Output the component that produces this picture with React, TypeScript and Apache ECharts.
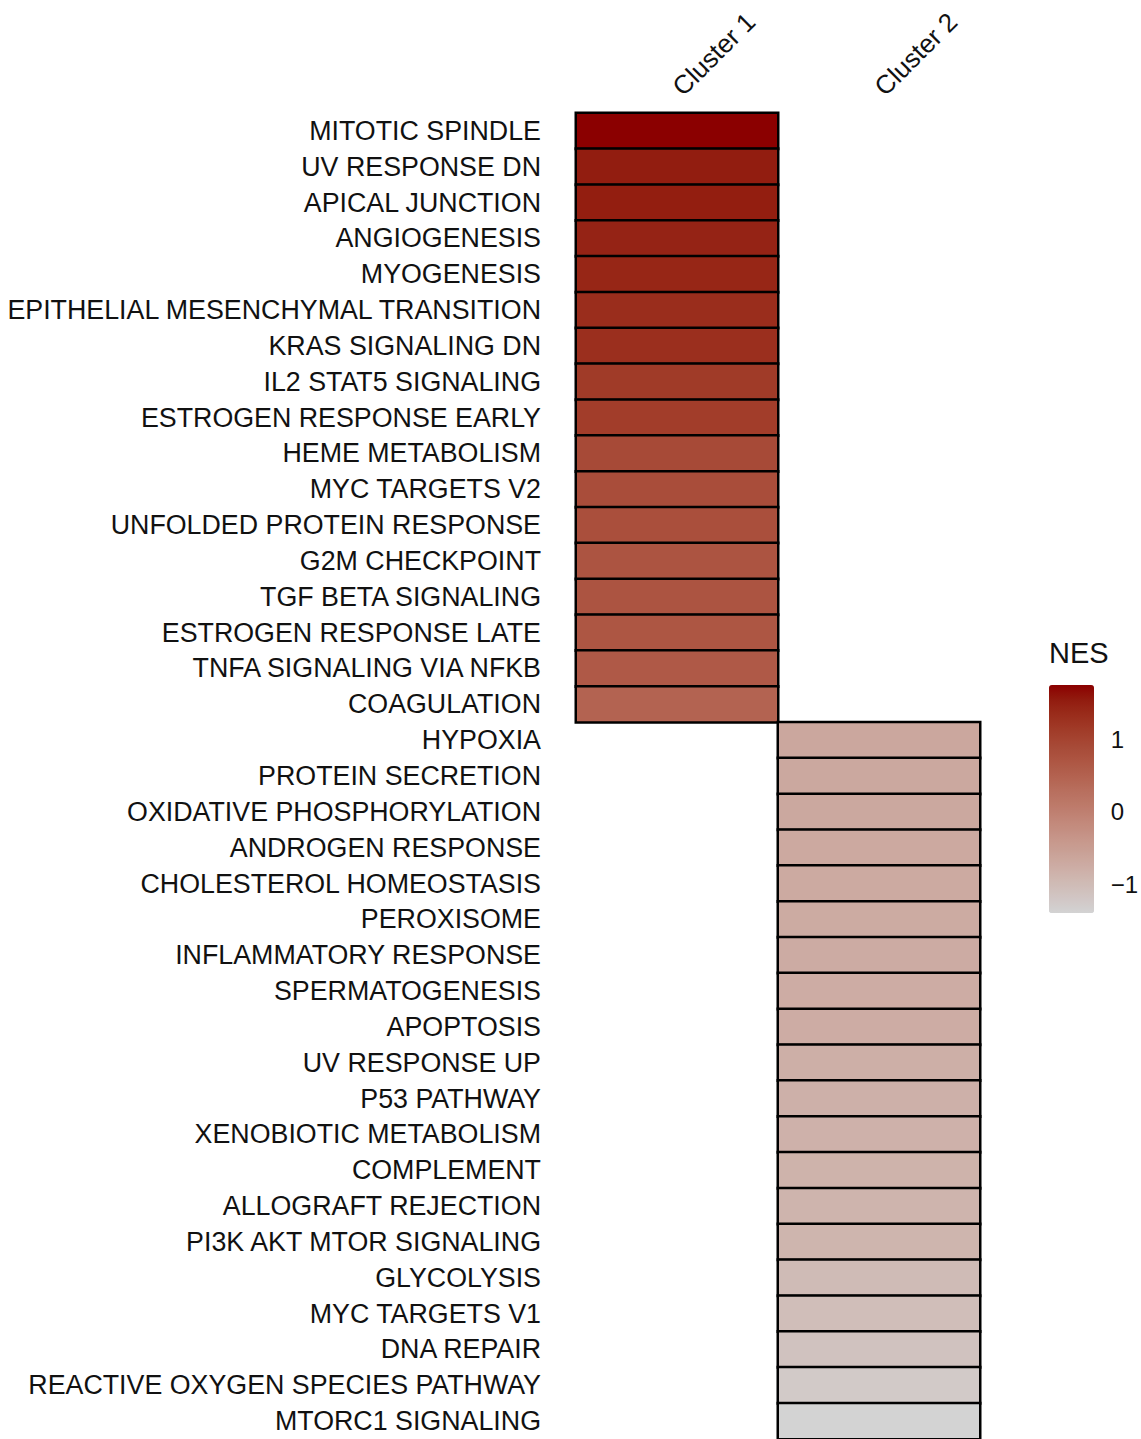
import React, { useEffect, useRef } from "react";
import * as echarts from "echarts";

const clusters = ["Cluster 1", "Cluster 2"];

const cluster1Pathways = [
  "MITOTIC SPINDLE",
  "UV RESPONSE DN",
  "APICAL JUNCTION",
  "ANGIOGENESIS",
  "MYOGENESIS",
  "EPITHELIAL MESENCHYMAL TRANSITION",
  "KRAS SIGNALING DN",
  "IL2 STAT5 SIGNALING",
  "ESTROGEN RESPONSE EARLY",
  "HEME METABOLISM",
  "MYC TARGETS V2",
  "UNFOLDED PROTEIN RESPONSE",
  "G2M CHECKPOINT",
  "TGF BETA SIGNALING",
  "ESTROGEN RESPONSE LATE",
  "TNFA SIGNALING VIA NFKB",
  "COAGULATION",
];
const cluster1NES = [
  1.75, 1.53, 1.52, 1.45, 1.42, 1.33, 1.3, 1.14, 1.1, 0.9, 0.84, 0.82, 0.74,
  0.73, 0.7, 0.64, 0.47,
];

const cluster2Pathways = [
  "HYPOXIA",
  "PROTEIN SECRETION",
  "OXIDATIVE PHOSPHORYLATION",
  "ANDROGEN RESPONSE",
  "CHOLESTEROL HOMEOSTASIS",
  "PEROXISOME",
  "INFLAMMATORY RESPONSE",
  "SPERMATOGENESIS",
  "APOPTOSIS",
  "UV RESPONSE UP",
  "P53 PATHWAY",
  "XENOBIOTIC METABOLISM",
  "COMPLEMENT",
  "ALLOGRAFT REJECTION",
  "PI3K AKT MTOR SIGNALING",
  "GLYCOLYSIS",
  "MYC TARGETS V1",
  "DNA REPAIR",
  "REACTIVE OXYGEN SPECIES PATHWAY",
  "MTORC1 SIGNALING",
];
const cluster2NES = [
  -0.67, -0.68, -0.69, -0.7, -0.72, -0.73, -0.74, -0.75, -0.76, -0.8, -0.82,
  -0.84, -0.86, -0.88, -0.9, -1.0, -1.05, -1.12, -1.25, -1.4,
];

const legendTicks = [-1, 0, 1];
const nesMin = -1.4;
const nesMax = 1.75;

// --- Lab interpolation (like ggplot's gradient) ---
function srgbToLin(c: number) {
  c /= 255;
  return c <= 0.04045 ? c / 12.92 : Math.pow((c + 0.055) / 1.055, 2.4);
}
function linToSrgb(c: number) {
  const v = c <= 0.0031308 ? 12.92 * c : 1.055 * Math.pow(c, 1 / 2.4) - 0.055;
  return Math.max(0, Math.min(255, Math.round(v * 255)));
}
const Xn = 0.95047, Yn = 1.0, Zn = 1.08883;
function f(t: number) {
  return t > 0.008856 ? Math.cbrt(t) : 7.787 * t + 16 / 116;
}
function finv(t: number) {
  return t > 0.206893 ? t * t * t : (t - 16 / 116) / 7.787;
}
function hexToLab(hex: string) {
  const r = srgbToLin(parseInt(hex.slice(1, 3), 16));
  const g = srgbToLin(parseInt(hex.slice(3, 5), 16));
  const b = srgbToLin(parseInt(hex.slice(5, 7), 16));
  const X = 0.4124 * r + 0.3576 * g + 0.1805 * b;
  const Y = 0.2126 * r + 0.7152 * g + 0.0722 * b;
  const Z = 0.0193 * r + 0.1192 * g + 0.9505 * b;
  const fx = f(X / Xn), fy = f(Y / Yn), fz = f(Z / Zn);
  return [116 * fy - 16, 500 * (fx - fy), 200 * (fy - fz)];
}
function labToHex(L: number, a: number, bb: number) {
  const fy = (L + 16) / 116;
  const fx = fy + a / 500;
  const fz = fy - bb / 200;
  const X = Xn * finv(fx), Y = Yn * finv(fy), Z = Zn * finv(fz);
  const r = 3.2406 * X - 1.5372 * Y - 0.4986 * Z;
  const g = -0.9689 * X + 1.8758 * Y + 0.0415 * Z;
  const b = 0.0557 * X - 0.204 * Y + 1.057 * Z;
  const h = (v: number) => linToSrgb(Math.max(0, v)).toString(16).padStart(2, "0");
  return "#" + h(r) + h(g) + h(b);
}
function labGradient(lo: string, hi: string, n: number) {
  const A = hexToLab(lo), B = hexToLab(hi);
  const out: string[] = [];
  for (let i = 0; i < n; i++) {
    const t = i / (n - 1);
    out.push(labToHex(A[0] + (B[0] - A[0]) * t, A[1] + (B[1] - A[1]) * t, A[2] + (B[2] - A[2]) * t));
  }
  return out;
}

const FONT = "'Liberation Sans', Arial, Helvetica, sans-serif";

export default function App() {
  const ref = useRef<HTMLDivElement>(null);
  useEffect(() => {
    if (!ref.current) return;
    const chart = echarts.init(ref.current, undefined, { renderer: "svg" });
    const pathways = [...cluster1Pathways, ...cluster2Pathways];
    const data: [number, number, number][] = [];
    cluster1Pathways.forEach((_, i) => data.push([0, i, cluster1NES[i]]));
    cluster2Pathways.forEach((_, i) =>
      data.push([1, cluster1Pathways.length + i, cluster2NES[i]])
    );
    const rowH = 35.85;
    chart.setOption({
      animation: false,
      backgroundColor: "#ffffff",
      grid: [
        { left: 576, top: 113, width: 404, height: rowH * pathways.length },
        { left: 1049, top: 685, width: 45, height: 228 },
      ],
      xAxis: [
        {
          type: "category",
          data: clusters,
          position: "top",
          gridIndex: 0,
          axisLine: { show: false },
          axisTick: { show: false },
          splitLine: { show: false },
          axisLabel: {
            rotate: -45,
            margin: 22,
            fontSize: 26,
            color: "#111",
            fontFamily: FONT,
          },
        },
        { type: "value", gridIndex: 1, show: false },
      ],
      yAxis: [
        {
          type: "category",
          data: pathways,
          inverse: true,
          gridIndex: 0,
          axisLine: { show: false },
          axisTick: { show: false },
          splitLine: { show: false },
          axisLabel: {
            margin: 35,
            fontSize: 26.8,
            color: "#111",
            fontFamily: FONT,
          },
        },
        {
          type: "value",
          gridIndex: 1,
          min: nesMin,
          max: nesMax,
          position: "right",
          axisLine: { show: false },
          splitLine: { show: false },
          axisTick: {
            show: true,
            inside: true,
            length: 9,
            customValues: legendTicks,
            lineStyle: { color: "rgba(255,255,255,0.75)", width: 1.5 },
          },
          axisLabel: {
            margin: 17,
            fontSize: 24,
            color: "#111",
            fontFamily: FONT,
            customValues: legendTicks,
            formatter: (v: number) => (v < 0 ? "\u2212" + Math.abs(v) : String(v)),
          },
        },
        {
          type: "value",
          gridIndex: 1,
          min: nesMin,
          max: nesMax,
          position: "left",
          axisLine: { show: false },
          splitLine: { show: false },
          axisTick: {
            show: true,
            inside: true,
            length: 9,
            customValues: legendTicks,
            lineStyle: { color: "rgba(255,255,255,0.75)", width: 1.5 },
          },
          axisLabel: { show: false },
        },
      ],
      visualMap: {
        type: "continuous",
        seriesIndex: 0,
        min: nesMin,
        max: nesMax,
        calculable: false,
        left: 1049,
        top: 685,
        padding: 0,
        itemWidth: 45,
        itemHeight: 228,
        text: ["", ""],
        showLabel: false,
        inRange: { color: labGradient("#d3d3d3", "#8b0000", 16) },
        z: 1,
      },
      graphic: [
        {
          type: "text",
          left: 1049,
          top: 638,
          style: {
            text: "NES",
            fontSize: 29,
            fill: "#111",
            fontFamily: FONT,
          },
        },
      ],
      series: [
        {
          type: "heatmap",
          xAxisIndex: 0,
          yAxisIndex: 0,
          data,
          itemStyle: { borderColor: "#000", borderWidth: 2.5 },
          emphasis: { disabled: true },
        },
      ],
    });
    return () => chart.dispose();
  }, []);
  return (
    <div
      ref={ref}
      style={{ position: "absolute", left: 0, top: 0, width: 1141, height: 1439 }}
    />
  );
}
